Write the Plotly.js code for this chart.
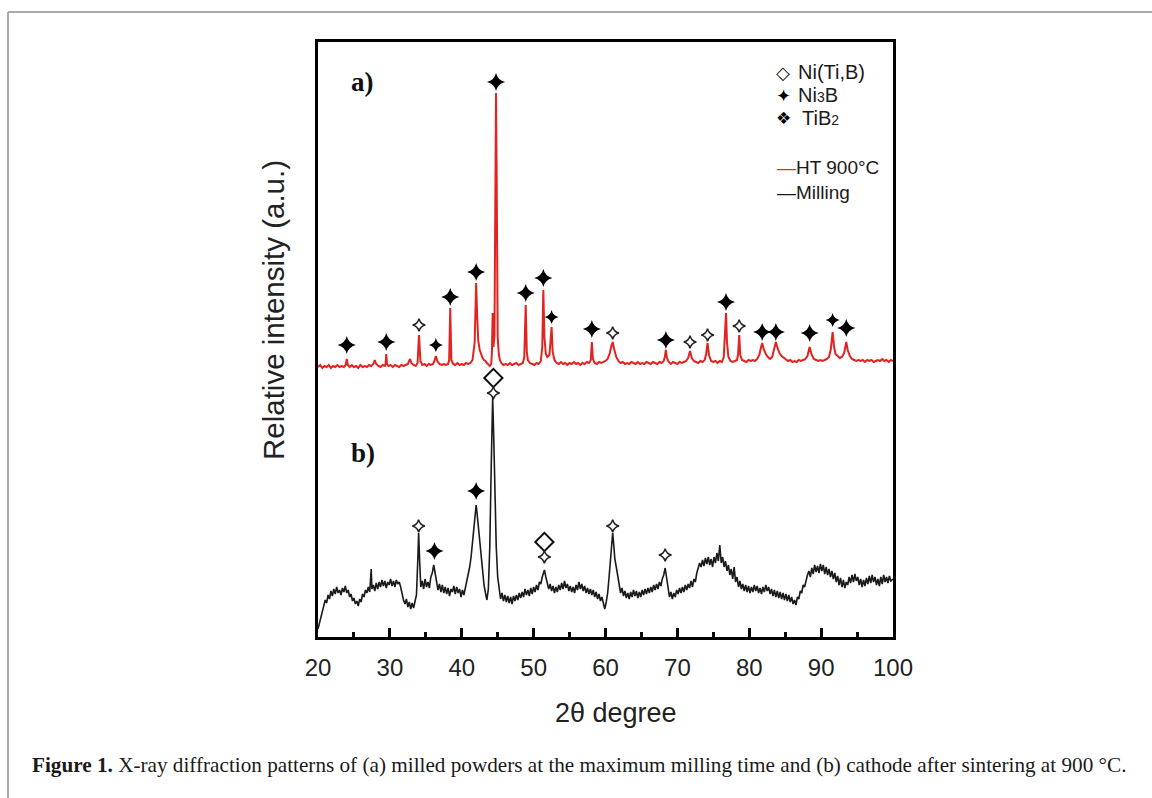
<!DOCTYPE html>
<html>
<head>
<meta charset="utf-8">
<script src="https://cdn.plot.ly/plotly-3.0.1.min.js"></script>
<style>
  html, body { margin: 0; padding: 0; background: #fff; }
  #chart { width: 1152px; height: 798px; }
</style>
</head>
<body>
<div id="chart"></div>
<script>
// ---- Data (2θ in degrees, intensity in a.u.) ----
// a) HT 900°C pattern
const htPattern = [
  [20.0,270],[20.3,272],[20.6,269],[20.9,271],[21.2,270],[21.5,272],[21.8,269],[22.1,271],[22.4,270],[22.7,272],
  [23.0,270],[23.3,271],[23.6,270],[23.85,272],[24.0,278],[24.15,272],[24.4,270],[24.7,272],[25.0,270],[25.3,271],
  [25.6,269],[25.9,272],[26.2,270],[26.5,271],[26.8,270],[27.1,272],[27.4,271],[27.7,273],[27.9,277],[28.1,273],
  [28.4,271],[28.7,270],[29.0,272],[29.3,271],[29.4,273],[29.5,283],[29.6,273],[29.8,271],[30.1,272],[30.4,270],
  [30.7,272],[31.0,271],[31.3,270],[31.6,272],[31.9,271],[32.2,272],[32.5,273],[32.8,278],[33.0,274],[33.3,272],
  [33.6,271],[33.85,274],[34.05,302],[34.25,276],[34.5,272],[34.8,273],[35.1,271],[35.4,273],[35.7,272],[36.0,273],
  [36.2,276],[36.4,281],[36.6,276],[36.9,273],[37.2,272],[37.5,273],[37.8,272],[38.1,273],[38.25,277],[38.4,329],
  [38.55,277],[38.8,273],[39.1,272],[39.4,274],[39.7,272],[40.0,273],[40.3,272],[40.6,274],[40.9,273],[41.2,274],
  [41.5,277],[41.8,295],[42.0,354],[42.15,320],[42.3,296],[42.5,287],[42.7,282],[42.9,279],[43.1,277],[43.3,276],
  [43.5,274],[43.7,272],[43.9,271],[44.1,273],[44.2,285],[44.3,324],[44.4,290],[44.55,300],[44.7,480],[44.77,544],
  [44.85,470],[45.0,300],[45.15,283],[45.3,277],[45.5,274],[45.8,272],[46.1,273],[46.4,272],[46.7,274],[47.0,272],
  [47.3,273],[47.6,274],[47.9,272],[48.2,273],[48.5,274],[48.7,280],[48.9,332],[49.05,285],[49.2,277],[49.5,274],
  [49.8,273],[50.1,272],[50.4,274],[50.7,273],[51.0,276],[51.2,290],[51.35,347],[51.5,300],[51.7,283],[51.9,280],
  [52.2,282],[52.4,300],[52.5,310],[52.65,285],[52.9,277],[53.2,274],[53.5,273],[53.8,275],[54.1,273],[54.4,274],
  [54.7,272],[55.0,274],[55.3,273],[55.6,275],[55.9,273],[56.2,274],[56.5,272],[56.8,274],[57.1,273],[57.4,275],
  [57.7,274],[57.95,277],[58.1,295],[58.25,278],[58.5,274],[58.8,273],[59.1,275],[59.4,274],[59.7,275],[60.0,276],
  [60.3,278],[60.6,284],[60.85,292],[61.0,295],[61.2,288],[61.5,280],[61.8,276],[62.1,274],[62.4,275],[62.7,273],
  [63.0,274],[63.3,273],[63.6,275],[63.9,274],[64.2,273],[64.5,275],[64.8,273],[65.1,274],[65.4,273],[65.7,275],
  [66.0,274],[66.3,273],[66.6,275],[66.9,274],[67.2,273],[67.5,275],[67.8,274],[68.1,276],[68.25,280],[68.4,287],
  [68.55,279],[68.8,275],[69.1,273],[69.4,275],[69.7,274],[70.0,273],[70.3,275],[70.6,274],[70.9,275],[71.2,276],
  [71.5,279],[71.76,286],[72.0,279],[72.3,276],[72.6,275],[72.9,274],[73.2,276],[73.5,275],[73.8,277],[74.0,283],
  [74.2,294],[74.4,282],[74.7,276],[75.0,275],[75.3,276],[75.6,274],[75.9,276],[76.2,275],[76.45,280],[76.6,300],
  [76.77,324],[76.9,295],[77.1,280],[77.4,276],[77.7,275],[78.0,276],[78.3,277],[78.45,283],[78.6,302],[78.75,282],
  [79.0,277],[79.3,276],[79.6,275],[79.9,277],[80.2,276],[80.5,277],[80.8,276],[81.1,278],[81.4,282],[81.65,290],
  [81.8,294],[82.0,288],[82.3,283],[82.6,280],[82.9,278],[83.2,280],[83.5,288],[83.7,295],[83.9,290],[84.2,284],
  [84.5,281],[84.8,279],[85.1,277],[85.4,276],[85.7,277],[86.0,275],[86.3,276],[86.6,275],[86.9,277],[87.2,276],
  [87.5,277],[87.8,278],[88.1,281],[88.4,290],[88.7,282],[89.0,278],[89.3,277],[89.6,276],[89.9,277],[90.2,276],
  [90.5,277],[90.8,278],[91.1,280],[91.35,288],[91.6,305],[91.8,290],[92.0,283],[92.3,281],[92.6,279],[92.9,280],
  [93.2,284],[93.5,295],[93.7,287],[94.0,281],[94.3,278],[94.6,277],[94.9,276],[95.2,277],[95.5,276],[95.8,277],
  [96.1,275],[96.4,277],[96.7,276],[97.0,277],[97.3,275],[97.6,276],[97.9,277],[98.2,276],[98.5,278],[98.8,276],
  [99.1,277],[99.4,275],[99.7,277],[100.0,276]
];

// b) Milling pattern
const millPattern = [
  [20.0,8],[20.2,14],[20.4,20],[20.6,27],[20.8,30],[21.0,37],[21.2,34],[21.4,42],[21.6,38],[21.8,46],
  [22.0,41],[22.2,48],[22.4,43],[22.6,50],[22.8,44],[23.0,47],[23.2,42],[23.4,49],[23.6,45],[23.8,51],
  [24.0,44],[24.2,47],[24.4,40],[24.6,43],[24.8,36],[25.0,39],[25.2,33],[25.4,36],[25.6,31],[25.8,38],
  [26.0,35],[26.2,43],[26.4,40],[26.6,47],[26.8,44],[27.0,50],[27.2,45],[27.4,68],[27.5,48],[27.7,52],
  [27.9,46],[28.1,54],[28.3,48],[28.5,55],[28.7,50],[28.9,57],[29.1,51],[29.3,56],[29.5,49],[29.7,55],
  [29.9,52],[30.1,58],[30.3,51],[30.5,56],[30.7,50],[30.9,57],[31.1,53],[31.3,55],[31.5,50],[31.7,42],
  [31.9,37],[32.1,33],[32.3,38],[32.5,30],[32.7,35],[32.9,28],[33.1,34],[33.3,29],[33.5,37],[33.7,42],
  [33.9,80],[34.0,104],[34.15,75],[34.3,50],[34.5,56],[34.7,48],[34.9,58],[35.1,50],[35.3,55],[35.5,49],
  [35.7,60],[35.9,64],[36.1,72],[36.3,62],[36.5,55],[36.7,47],[36.9,53],[37.1,45],[37.3,52],[37.5,44],
  [37.7,50],[37.9,43],[38.1,49],[38.3,41],[38.5,48],[38.7,45],[38.9,51],[39.1,43],[39.3,50],[39.5,44],
  [39.7,48],[39.9,40],[40.1,47],[40.3,42],[40.5,49],[40.7,55],[40.9,62],[41.1,70],[41.3,80],[41.5,95],
  [41.7,112],[41.9,128],[42.0,132],[42.1,126],[42.3,110],[42.5,92],[42.7,78],[42.9,62],[43.1,52],[43.3,44],
  [43.5,37],[43.7,48],[43.9,90],[44.1,170],[44.3,239],[44.45,200],[44.6,140],[44.8,90],[45.0,60],[45.2,46],
  [45.4,38],[45.6,44],[45.8,36],[46.0,42],[46.2,35],[46.4,41],[46.6,34],[46.8,40],[47.0,33],[47.2,41],
  [47.4,36],[47.6,42],[47.8,37],[48.0,44],[48.2,39],[48.4,45],[48.6,40],[48.8,48],[49.0,42],[49.2,47],
  [49.4,41],[49.6,49],[49.8,43],[50.0,50],[50.2,45],[50.4,52],[50.6,47],[50.8,55],[51.0,53],[51.2,60],
  [51.4,64],[51.5,67],[51.7,60],[51.9,54],[52.1,48],[52.3,53],[52.5,46],[52.7,51],[52.9,44],[53.1,50],
  [53.3,45],[53.5,52],[53.7,47],[53.9,54],[54.1,48],[54.3,56],[54.5,49],[54.7,53],[54.9,46],[55.1,51],
  [55.3,45],[55.5,50],[55.7,44],[55.9,52],[56.1,47],[56.3,55],[56.5,48],[56.7,53],[56.9,46],[57.1,51],
  [57.3,44],[57.5,49],[57.7,43],[57.9,48],[58.1,42],[58.3,47],[58.5,40],[58.7,45],[58.9,38],[59.1,43],
  [59.3,36],[59.5,40],[59.7,32],[59.9,28],[60.1,35],[60.3,44],[60.5,60],[60.7,75],[60.9,96],[61.0,104],
  [61.15,92],[61.3,78],[61.5,70],[61.7,60],[61.9,50],[62.1,44],[62.3,49],[62.5,41],[62.7,46],[62.9,39],
  [63.1,44],[63.3,38],[63.5,45],[63.7,40],[63.9,47],[64.1,41],[64.3,46],[64.5,39],[64.7,45],[64.9,40],
  [65.1,47],[65.3,42],[65.5,48],[65.7,43],[65.9,49],[66.1,44],[66.3,50],[66.5,45],[66.7,52],[66.9,47],
  [67.1,53],[67.3,48],[67.5,55],[67.7,51],[67.9,58],[68.1,62],[68.3,69],[68.5,58],[68.7,48],[68.9,40],
  [69.1,45],[69.3,38],[69.5,44],[69.7,40],[69.9,47],[70.1,43],[70.3,49],[70.5,44],[70.7,50],[70.9,45],
  [71.1,52],[71.3,47],[71.5,53],[71.7,49],[71.9,56],[72.1,50],[72.3,58],[72.5,55],[72.7,64],[72.9,68],
  [73.1,74],[73.3,70],[73.5,77],[73.7,71],[73.9,79],[74.1,73],[74.3,80],[74.5,72],[74.7,78],[74.9,70],
  [75.1,80],[75.3,74],[75.5,84],[75.7,76],[75.9,92],[76.1,74],[76.3,80],[76.5,70],[76.7,76],[76.9,66],
  [77.1,72],[77.3,62],[77.5,68],[77.7,58],[77.9,70],[78.1,55],[78.3,60],[78.5,50],[78.7,56],[78.9,48],
  [79.1,53],[79.3,46],[79.5,52],[79.7,45],[79.9,51],[80.1,44],[80.3,50],[80.5,45],[80.7,52],[80.9,46],
  [81.1,51],[81.3,44],[81.5,49],[81.7,43],[81.9,50],[82.1,45],[82.3,52],[82.5,46],[82.7,50],[82.9,43],
  [83.1,48],[83.3,41],[83.5,47],[83.7,40],[83.9,46],[84.1,39],[84.3,45],[84.5,38],[84.7,44],[84.9,37],
  [85.1,43],[85.3,36],[85.5,42],[85.7,35],[85.9,40],[86.1,33],[86.3,37],[86.5,32],[86.7,40],[86.9,38],
  [87.1,46],[87.3,44],[87.5,52],[87.7,50],[87.9,58],[88.1,62],[88.3,66],[88.5,60],[88.7,69],[88.9,63],
  [89.1,72],[89.3,65],[89.5,71],[89.7,64],[89.9,73],[90.1,66],[90.3,72],[90.5,63],[90.7,70],[90.9,62],
  [91.1,68],[91.3,60],[91.5,66],[91.7,58],[91.9,64],[92.1,55],[92.3,61],[92.5,52],[92.7,59],[92.9,50],
  [93.1,57],[93.3,49],[93.5,55],[93.7,52],[93.9,60],[94.1,54],[94.3,62],[94.5,55],[94.7,63],[94.9,56],
  [95.1,60],[95.3,52],[95.5,58],[95.7,50],[95.9,57],[96.1,51],[96.3,59],[96.5,53],[96.7,61],[96.9,54],
  [97.1,62],[97.3,55],[97.5,60],[97.7,52],[97.9,58],[98.1,51],[98.3,60],[98.5,53],[98.7,62],[98.9,55],
  [99.1,60],[99.3,54],[99.5,61],[99.7,56],[100.0,58]
];

// Phase markers: [2θ, intensity level of the symbol]
const ni3bMarks = [
  [24.0,292],[29.5,295],[38.4,340],[42.0,365],[44.77,555],[48.9,344],[51.35,359],[58.1,308],
  [68.4,297],[76.77,335],[81.8,305],[83.7,305],[88.4,304],[93.5,309],
  [36.2,86],[42.0,146]
];
const ni3bSmallMarks = [[36.4,292],[52.5,320],[91.6,317]];
const niTiBMarks = [[44.4,259],[51.5,95]];
const tib2Marks = [
  [34.05,312],[61.0,304],[71.76,295],[74.2,302],[78.6,311],
  [34.0,111],[44.4,244],[51.5,80],[61.0,111],[68.3,82]
];

const xTicks = [20, 30, 40, 50, 60, 70, 80, 90, 100];
const seriesNames = ['HT 900°C', 'Milling'];

// ---- Build traces ----
const col = (arr, i) => arr.map(p => p[i]);

const traces = [
  {
    x: col(millPattern, 0), y: col(millPattern, 1), type: 'scatter', mode: 'lines',
    name: seriesNames[1], line: { color: '#1a1a1a', width: 1.6 }, showlegend: false
  },
  {
    x: col(htPattern, 0), y: col(htPattern, 1), type: 'scatter', mode: 'lines',
    name: seriesNames[0], line: { color: '#e3231f', width: 2 }, showlegend: false
  },
  {
    x: col(ni3bMarks, 0), y: col(ni3bMarks, 1), type: 'scatter', mode: 'markers', showlegend: false,
    marker: { symbol: 'star-diamond', size: 13, color: '#000' }
  },
  {
    x: col(ni3bSmallMarks, 0), y: col(ni3bSmallMarks, 1), type: 'scatter', mode: 'markers', showlegend: false,
    marker: { symbol: 'star-diamond', size: 10, color: '#000' }
  },
  {
    x: col(niTiBMarks, 0), y: col(niTiBMarks, 1), type: 'scatter', mode: 'markers', showlegend: false,
    marker: { symbol: 'diamond-open', size: 14, color: '#111', line: { width: 2, color: '#111' } }
  },
  {
    x: col(tib2Marks, 0), y: col(tib2Marks, 1), type: 'scatter', mode: 'markers', showlegend: false,
    marker: { symbol: 'star-diamond-open', size: 9, color: '#222', line: { width: 1.5, color: '#222' } }
  }
];

// ---- Layout ----
const L = 318, R = 893, T = 42, B = 637;
const px2x = p => (p - L) / (R - L);
const px2y = p => (B - p) / (B - T);
const sans = 'Liberation Sans, Arial, sans-serif';
const serif = 'Liberation Serif, Times New Roman, serif';

const ann = (text, xp, yp, opts) => Object.assign({
  text: text, xref: 'paper', yref: 'paper', x: px2x(xp), y: px2y(yp),
  showarrow: false, xanchor: 'left', yanchor: 'middle', borderpad: 0,
  font: { family: sans, size: 20, color: '#1a1a1a' }
}, opts || {});

const layout = {
  width: 1152, height: 798,
  margin: { l: L, r: 1152 - R, t: T, b: 798 - B, pad: 0 },
  paper_bgcolor: '#fff', plot_bgcolor: '#fff',
  showlegend: false,
  xaxis: {
    range: [20, 100], tickmode: 'array', tickvals: xTicks, ticktext: xTicks.map(String),
    ticks: 'inside', ticklen: 9, tickwidth: 3, tickcolor: '#000',
    showline: true, linewidth: 3, linecolor: '#000', mirror: true,
    showgrid: false, zeroline: false, ticklabelstandoff: 7,
    tickfont: { family: sans, size: 24, color: '#222' },
    minor: { dtick: 5, tick0: 25, ticks: 'inside', ticklen: 5, tickwidth: 3, tickcolor: '#000', showgrid: false }
  },
  yaxis: {
    range: [0, 595], showticklabels: false, ticks: '',
    showline: true, linewidth: 3, linecolor: '#000', mirror: true,
    showgrid: false, zeroline: false
  },
  shapes: [
    { type: 'line', xref: 'paper', yref: 'paper', x0: px2x(8), y0: px2y(12), x1: px2x(1160), y1: px2y(12),
      line: { color: '#8f8f8f', width: 1.5 } },
    { type: 'line', xref: 'paper', yref: 'paper', x0: px2x(8), y0: px2y(12), x1: px2x(8), y1: px2y(810),
      line: { color: '#8f8f8f', width: 1.5 } }
  ],
  annotations: [
    ann('<b>a)</b>', 362, 82, { xanchor: 'center', font: { family: serif, size: 27, color: '#111' } }),
    ann('<b>b)</b>', 363, 453, { xanchor: 'center', font: { family: serif, size: 27, color: '#111' } }),
    ann('◇', 783, 72, { xanchor: 'center', font: { family: 'DejaVu Sans', size: 18, color: '#111' } }),
    ann('Ni(Ti,B)', 797, 72, { font: { family: sans, size: 20, color: '#1a1a1a' } }),
    ann('✦', 783, 95, { xanchor: 'center', font: { family: 'DejaVu Sans', size: 18, color: '#000' } }),
    ann('Ni<span style="font-size:14px">3</span>B', 797, 95, { font: { family: sans, size: 20, color: '#1a1a1a' } }),
    ann('❖', 783, 118, { xanchor: 'center', font: { family: 'DejaVu Sans', size: 17, color: '#000' } }),
    ann('TiB<span style="font-size:14px">2</span>', 801, 118, { font: { family: sans, size: 20, color: '#1a1a1a' } }),
    ann('<span style="color:#d0342f">—</span>HT 900°C', 776, 167, { font: { family: sans, size: 19, color: '#1a1a1a' } }),
    ann('—Milling', 776, 192, { font: { family: sans, size: 19, color: '#1a1a1a' } }),
    ann('Relative intensity (a.u.)', 273, 310, { xanchor: 'center', textangle: -90,
      font: { family: sans, size: 29.5, color: '#222' } }),
    ann('2θ degree', 616, 713, { xanchor: 'center', font: { family: sans, size: 27, color: '#222' } }),
    ann('<b>Figure 1.</b> X-ray diffraction patterns of (a) milled powders at the maximum milling time and (b) cathode after sintering at 900 °C.',
      31, 765, { font: { family: serif, size: 21.2, color: '#1a1a1a' } })
  ]
};

Plotly.newPlot('chart', traces, layout, { displayModeBar: false, staticPlot: true });
</script>
</body>
</html>
